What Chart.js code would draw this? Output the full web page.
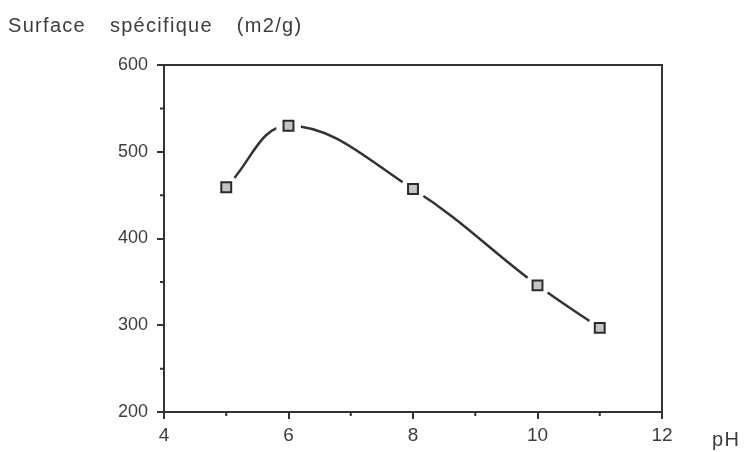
<!DOCTYPE html>
<html>
<head>
<meta charset="utf-8">
<script src="https://cdn.jsdelivr.net/npm/chart.js@4"></script>
<style>
html,body{margin:0;padding:0;background:#fff;}
#wrap{width:744px;height:452px;position:relative;}
</style>
</head>
<body>
<div id="wrap"><canvas id="c" width="744" height="452"></canvas></div>
<script>
const phValues = [5, 6, 8, 10, 11];
const surfaceValues = [459, 530, 457, 346, 297];
const xTicks = [4, 6, 8, 10, 12];
const yTicks = [200, 300, 400, 500, 600];
const titleText = 'Surface spécifique (m2/g)';
const xAxisLabel = 'pH';

const points = phValues.map((x, i) => ({x: x, y: surfaceValues[i]}));
const INK = '#333333';
const FONT = '"Liberation Sans", Arial, sans-serif';

const framePlugin = {
  id: 'frame',
  beforeDatasetsDraw(chart) {
    const {ctx, chartArea: a, scales} = chart;
    ctx.save();
    ctx.strokeStyle = INK;
    ctx.lineWidth = 2;
    ctx.beginPath();
    ctx.moveTo(a.left, a.bottom + 7);
    ctx.lineTo(a.left, a.top);
    ctx.lineTo(a.right, a.top);
    ctx.lineTo(a.right, a.bottom + 7);
    ctx.moveTo(a.left - 7, a.bottom);
    ctx.lineTo(a.right, a.bottom);
    ctx.moveTo(a.left - 7, a.top);
    ctx.lineTo(a.left, a.top);
    for (let v = 250; v < 600; v += 100) {
      const y = scales.y.getPixelForValue(v);
      ctx.moveTo(a.left - 4, y); ctx.lineTo(a.left, y);
    }
    for (let v = 5; v < 12; v += 2) {
      const x = scales.x.getPixelForValue(v);
      ctx.moveTo(x, a.bottom); ctx.lineTo(x, a.bottom + 4);
    }
    ctx.stroke();
    ctx.restore();
  },
  afterDraw(chart) {
    const {ctx} = chart;
    ctx.save();
    ctx.fillStyle = '#3d3d3d';
    ctx.font = '20px ' + FONT;
    ctx.textBaseline = 'alphabetic';
    ctx.letterSpacing = '1.3px';
    ctx.wordSpacing = '17px';
    ctx.textAlign = 'left';
    ctx.fillText(titleText, 8, 32);
    ctx.wordSpacing = '0px';
    ctx.fillText(xAxisLabel, 712, 446);
    ctx.restore();
  }
};

new Chart(document.getElementById('c'), {
  type: 'line',
  data: {
    datasets: [
      {
        data: points, showLine: false, order: 0,
        pointStyle: 'rect', pointRadius: 7, pointBorderWidth: 2,
        pointBorderColor: '#2a2a2a', pointBackgroundColor: '#c4c4c4'
      },
      {
        data: points, showLine: true, order: 1,
        borderColor: INK, borderWidth: 2.5, tension: 0.4,
        cubicInterpolationMode: 'default',
        pointStyle: 'circle', pointRadius: 12.5, pointBorderWidth: 0,
        pointBackgroundColor: '#ffffff', pointBorderColor: '#ffffff'
      }
    ]
  },
  options: {
    responsive: false,
    animation: false,
    layout: {autoPadding: false, padding: {top: 65, right: 82, left: 0, bottom: 0}},
    plugins: {legend: {display: false}, tooltip: {enabled: false}},
    scales: {
      x: {
        type: 'linear', min: 4, max: 12,
        afterBuildTicks: s => { s.ticks = xTicks.map(v => ({value: v})); },
        afterFit: s => { s.height = 40; },
        border: {display: false},
        grid: {display: true, drawOnChartArea: false, drawTicks: true, tickLength: 7, color: INK, lineWidth: 2},
        ticks: {color: '#3d3d3d', font: {family: FONT, size: 19}, padding: 5, maxRotation: 0}
      },
      y: {
        type: 'linear', min: 200, max: 600,
        afterBuildTicks: s => { s.ticks = yTicks.map(v => ({value: v})); },
        afterFit: s => { s.width = 164; },
        border: {display: false},
        grid: {display: true, drawOnChartArea: false, drawTicks: true, tickLength: 7, color: INK, lineWidth: 2},
        ticks: {color: '#3d3d3d', font: {family: FONT, size: 18}, padding: 9}
      }
    }
  },
  plugins: [framePlugin]
});
</script>
</body>
</html>
